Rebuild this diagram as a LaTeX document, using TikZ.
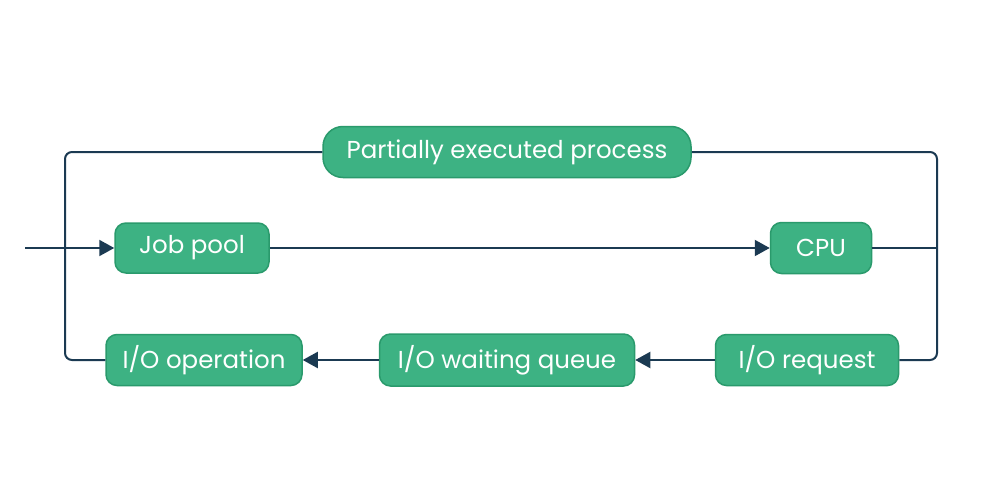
\documentclass[tikz,border=0pt]{standalone}
\usepackage{fontspec}
\setmainfont{Poppins}
\usetikzlibrary{arrows.meta}
\definecolor{boxfill}{HTML}{3DB283}
\definecolor{boxline}{HTML}{2A9A6C}
\definecolor{wire}{HTML}{1B3A52}
\tikzset{
  box/.style={rectangle, rounded corners=11pt, fill=boxfill, draw=boxline, line width=1.5pt,
    text=white, font=\fontsize{24.5}{28}\selectfont, inner sep=0pt, anchor=center},
  wireline/.style={draw=wire, line width=2pt},
  arr/.style={wireline, -{Triangle[length=15pt,width=16pt]}},
}
\begin{document}
\begin{tikzpicture}[x=1pt,y=-1pt]
\useasboundingbox (0,0) rectangle (983,487);
\fill[white] (0,0) rectangle (983,487);
\node[box, rounded corners=20pt, minimum width=368pt, minimum height=51pt] (pep) at (507,152) {Partially executed process};
\node[box, minimum width=154pt, minimum height=50pt] (job) at (192,248) {Job pool};
\node[box, minimum width=101pt, minimum height=51pt] (cpu) at (821,248) {CPU};
\node[box, minimum width=196pt, minimum height=51pt] (ioop) at (204,360) {I/O operation};
\node[box, minimum width=255pt, minimum height=52pt] (iowait) at (507,360) {I/O waiting queue};
\node[box, minimum width=183pt, minimum height=51pt] (ioreq) at (807,360) {I/O request};
\coordinate (in) at (25,248);
\coordinate (lt) at (65,152);
\coordinate (lb) at (65,360);
\coordinate (rt) at (937,152);
\coordinate (rb) at (937,360);
\draw[arr] (in) -- (job.west);
\draw[arr] (job.east) -- (cpu.west);
\draw[wireline] (cpu.east) -- (cpu.east -| rt);
\draw[wireline, rounded corners=7pt] (pep.east) -- (rt) -- (rb) -- (ioreq.east);
\draw[arr] (ioreq.west) -- (iowait.east);
\draw[arr] (iowait.west) -- (ioop.east);
\draw[wireline, rounded corners=7pt] (ioop.west) -- (lb) -- (lt) -- (pep.west);
\end{tikzpicture}
\end{document}
